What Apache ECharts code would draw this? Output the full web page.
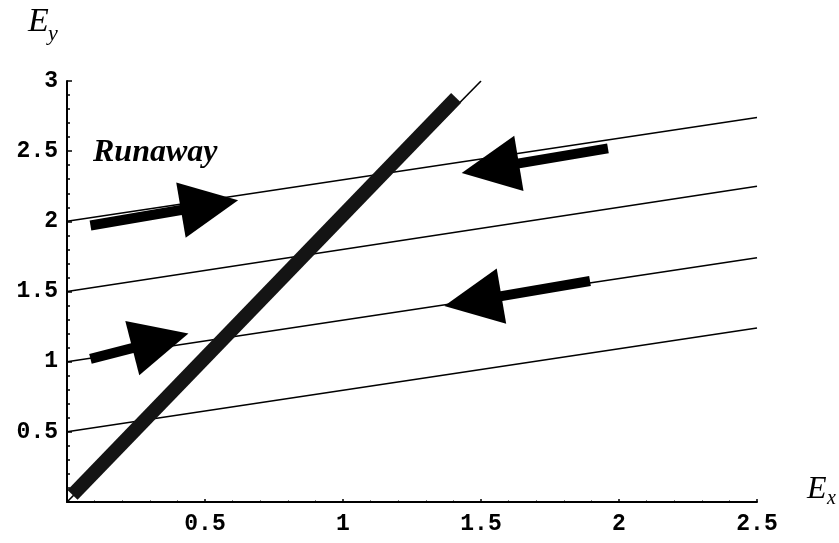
<!DOCTYPE html>
<html>
<head>
<meta charset="utf-8">
<script src="https://cdn.jsdelivr.net/npm/echarts@6/dist/echarts.min.js"></script>
<style>
html,body{margin:0;padding:0;background:#fff;}
#main{width:839px;height:543px;}
</style>
</head>
<body>
<div id="main"></div>
<script>
// ---- data ----
const xTickValues = [0.5, 1, 1.5, 2, 2.5];
const xTickLabels = ['0.5', '1', '1.5', '2', '2.5'];
const yTickValues = [0.5, 1, 1.5, 2, 2.5, 3];
const yTickLabels = ['0.5', '1', '1.5', '2', '2.5', '3'];

// thin field lines: value at x = 0 and at x = 2.5
const fieldX = [0, 2.5];
const fieldStartY = [0.5, 1.0, 1.5, 2.0];
const fieldEndY = [1.24, 1.74, 2.25, 2.74];

// thin separatrix line and its thick part
const sepX = [0, 1.5];
const sepY = [0, 3.0];
const thickX = [0.02, 1.41];
const thickY = [0.05, 2.88];

// arrows: tail and tip (data coordinates)
const arrowTailX = [0.085, 1.96, 1.895, 0.085];
const arrowTailY = [1.97, 2.52, 1.575, 1.02];
const arrowTipX = [0.62, 1.43, 1.367, 0.44];
const arrowTipY = [2.15, 2.345, 1.397, 1.2];

const annotation = 'Runaway';

// ---- chart ----
const chart = echarts.init(document.getElementById('main'));

const fieldSeries = fieldStartY.map((y0, i) => ({
  type: 'line',
  data: [[fieldX[0], y0], [fieldX[1], fieldEndY[i]]],
  symbol: 'none',
  lineStyle: { color: '#000', width: 1.6 },
  silent: true,
  z: 2
}));

const arrowData = arrowTailX.map((tx, i) => [tx, arrowTailY[i], arrowTipX[i], arrowTipY[i]]);

const tickLabel = (vals, labels) => v => {
  const idx = vals.findIndex(t => Math.abs(t - v) < 1e-9);
  return idx >= 0 ? labels[idx] : '';
};

const labelStyle = {
  fontFamily: 'Liberation Mono',
  fontWeight: 'bold',
  fontSize: 23,
  color: '#000'
};

const option = {
  backgroundColor: '#fff',
  animation: false,
  grid: { left: 67, right: 82, top: 81, bottom: 41 },
  xAxis: {
    type: 'value', min: 0, max: 2.5, interval: 0.5,
    axisLine: { lineStyle: { color: '#000', width: 2 } },
    axisTick: { inside: true, length: 3, lineStyle: { color: '#000', width: 1.5 } },
    minorTick: { show: true, splitNumber: 5, length: 1.5, lineStyle: { color: '#000', width: 1 } },
    splitLine: { show: false },
    axisLabel: Object.assign({ margin: 11, formatter: tickLabel(xTickValues, xTickLabels) }, labelStyle)
  },
  yAxis: {
    type: 'value', min: 0, max: 3, interval: 0.5,
    axisLine: { lineStyle: { color: '#000', width: 2 } },
    axisTick: { inside: true, length: 5, lineStyle: { color: '#000', width: 1.5 } },
    minorTick: { show: true, splitNumber: 5, length: 3, lineStyle: { color: '#000', width: 1.5 } },
    splitLine: { show: false },
    axisLabel: Object.assign({ margin: 9, formatter: tickLabel(yTickValues, yTickLabels) }, labelStyle)
  },
  series: fieldSeries.concat([
    {
      type: 'line',
      data: [[sepX[0], sepY[0]], [sepX[1], sepY[1]]],
      symbol: 'none',
      lineStyle: { color: '#000', width: 1.6 },
      silent: true,
      z: 3
    },
    {
      type: 'line',
      data: [[thickX[0], thickY[0]], [thickX[1], thickY[1]]],
      symbol: 'none',
      lineStyle: { color: '#141414', width: 14, cap: 'butt' },
      silent: true,
      z: 4
    },
    {
      type: 'custom',
      data: arrowData,
      z: 5,
      silent: true,
      renderItem: function (params, api) {
        const tail = api.coord([api.value(0), api.value(1)]);
        const tip = api.coord([api.value(2), api.value(3)]);
        const dx = tip[0] - tail[0], dy = tip[1] - tail[1];
        const len = Math.sqrt(dx * dx + dy * dy);
        const ux = dx / len, uy = dy / len;
        const nx = -uy, ny = ux;
        const headLen = 58, headHalf = 28;
        const bx = tip[0] - ux * headLen, by = tip[1] - uy * headLen;
        return {
          type: 'group',
          children: [
            {
              type: 'line',
              shape: { x1: tail[0], y1: tail[1], x2: bx + ux * 6, y2: by + uy * 6 },
              style: { stroke: '#000', lineWidth: 10, lineCap: 'butt' }
            },
            {
              type: 'polygon',
              shape: { points: [tip, [bx + nx * headHalf, by + ny * headHalf], [bx - nx * headHalf, by - ny * headHalf]] },
              style: { fill: '#000' }
            }
          ]
        };
      }
    }
  ]),
  graphic: [
    {
      type: 'text', left: 28, top: 5,
      style: { text: 'E', font: 'italic 34px "Liberation Serif"', fill: '#000' }
    },
    {
      type: 'text', left: 48, top: 23,
      style: { text: 'y', font: 'italic 22px "Liberation Serif"', fill: '#000' }
    },
    {
      type: 'text', left: 807, top: 474,
      style: { text: 'E', font: 'italic 32px "Liberation Serif"', fill: '#000' }
    },
    {
      type: 'text', left: 827, top: 489,
      style: { text: 'x', font: 'italic 20px "Liberation Serif"', fill: '#000' }
    },
    {
      type: 'text', left: 93, top: 137,
      style: { text: annotation, font: 'italic bold 32px "Liberation Serif"', fill: '#000' }
    }
  ]
};

chart.setOption(option);
</script>
</body>
</html>
